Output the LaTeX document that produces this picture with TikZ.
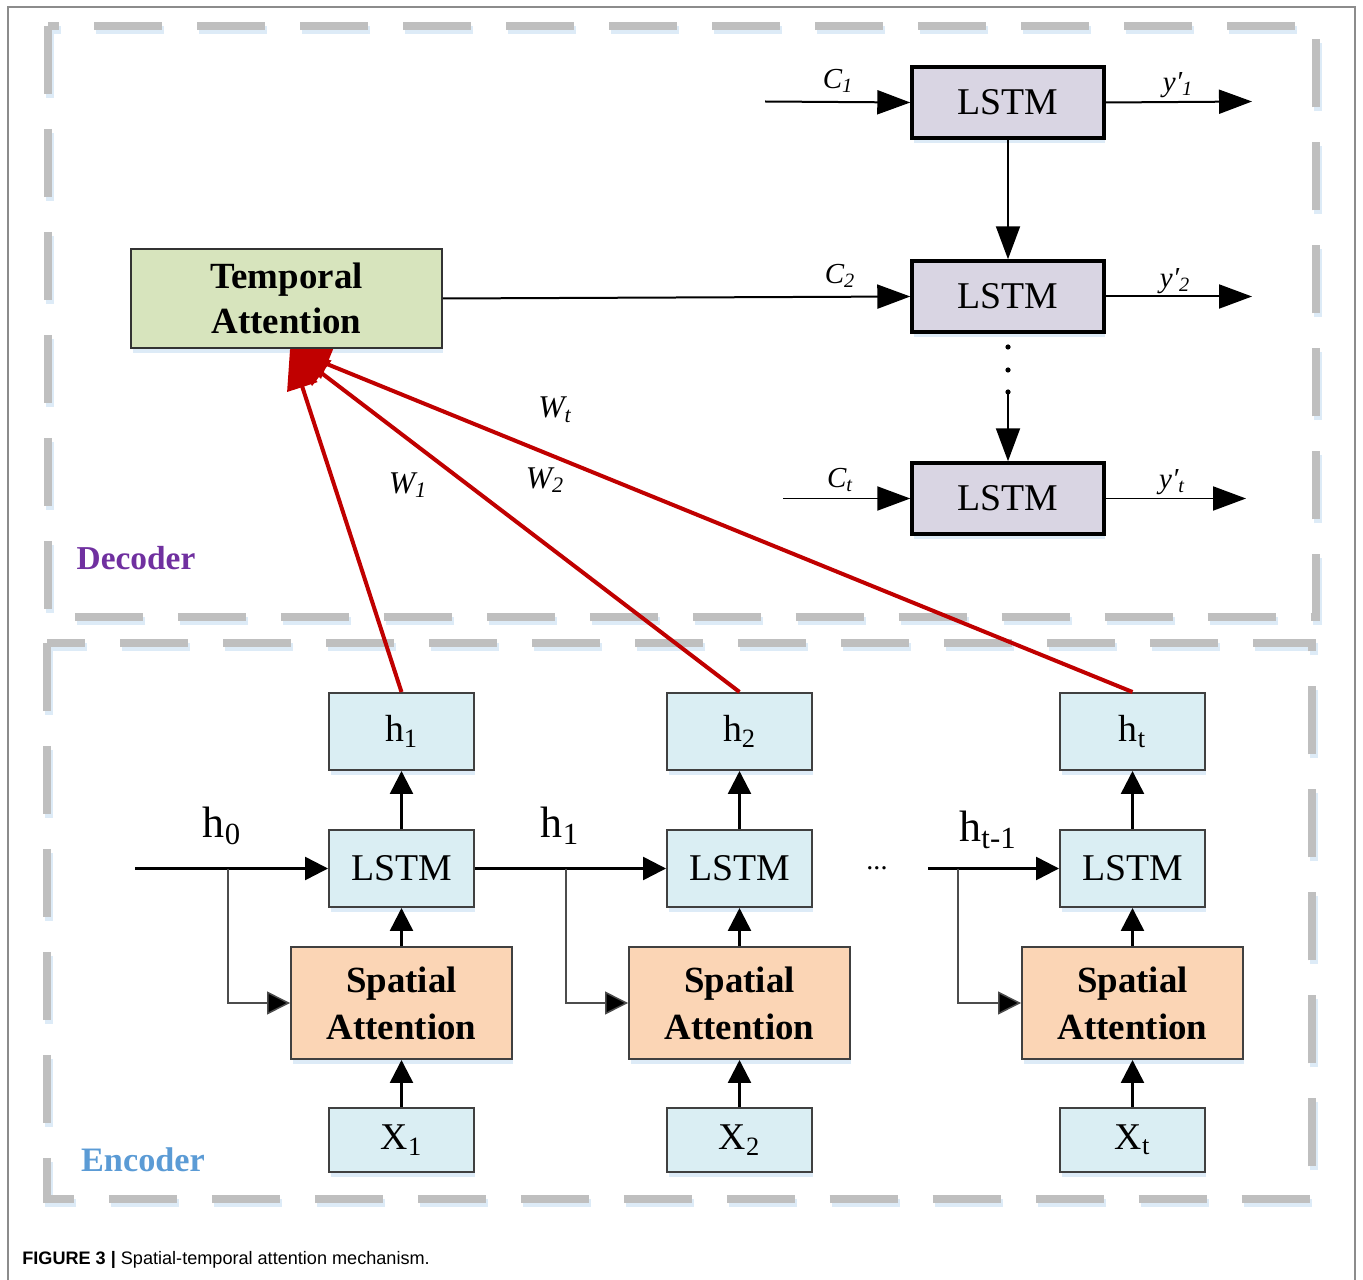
\documentclass[tikz,border=0pt]{standalone}
\usepackage{fontspec}
\setmainfont{Liberation Serif}
\setsansfont{Liberation Sans}
\usepackage{tikz}
\usetikzlibrary{arrows.meta,shadows}

\definecolor{declstm}{HTML}{D9D5E3}
\definecolor{tempgreen}{HTML}{D7E4BD}
\definecolor{encblue}{HTML}{DAEEF3}
\definecolor{spatpeach}{HTML}{FBD5B5}
\definecolor{attred}{HTML}{C00000}
\definecolor{decpurple}{HTML}{7030A0}
\definecolor{encsky}{HTML}{5B9BD5}
\definecolor{dashgray}{HTML}{BFBFBF}
\definecolor{shadeblue}{HTML}{DDEBF7}

\tikzset{
	boxshade/.style={drop shadow={shadow xshift=0.03cm, shadow yshift=-0.11cm, fill=shadeblue, opacity=1}},
	declstmbox/.style={draw=black, line width=0.07cm, fill=declstm, minimum width=3.84cm, minimum height=1.42cm, inner sep=0pt, boxshade, font=\fontsize{21.5}{26}\selectfont},
	tempbox/.style={draw=black!80, line width=0.04cm, fill=tempgreen, minimum width=6.22cm, minimum height=1.98cm, inner sep=0pt, align=center, boxshade, font=\fontsize{21}{25.6}\selectfont\bfseries},
	encbox/.style={draw=black!75, line width=0.04cm, fill=encblue, minimum width=2.9cm, minimum height=1.54cm, inner sep=0pt, boxshade, font=\fontsize{21.5}{26}\selectfont},
	xbox/.style={encbox, minimum height=1.28cm},
	spatbox/.style={draw=black!75, line width=0.04cm, fill=spatpeach, minimum width=4.42cm, minimum height=2.24cm, inner sep=0pt, align=center, boxshade, font=\fontsize{21}{26.7}\selectfont\bfseries},
	darr/.style={line width=0.04cm, -{Triangle[length=0.66cm, width=0.48cm]}},
	encarr/.style={line width=0.05cm, -{Triangle[length=0.46cm, width=0.46cm]}},
	branch/.style={line width=0.03cm, draw=black!70, -{Triangle[length=0.46cm, width=0.46cm, fill=black]}},
	redarr/.style={line width=0.08cm, attred, -{Triangle[length=0.8cm, width=0.62cm]}},
	grouprect/.style={line width=0.16cm, dash pattern=on 1.36cm off 0.7cm},
	itlabel/.style={inner sep=0pt, font=\fontsize{16.5}{20}\selectfont\itshape},
	wlabel/.style={inner sep=0pt, font=\fontsize{18}{22}\selectfont\itshape},
	hlabel/.style={inner sep=0pt, font=\fontsize{25}{30}\selectfont},
}

\begin{document}
\begin{tikzpicture}[x=0.02cm, y=-0.02cm]
		%%%%% START %%%%%
		\useasboundingbox (0,0) rectangle (1363,1280);
		
		% outer frame
		\draw[black!45, line width=0.03cm] (8,1280) -- (8,7) -- (1355,7) -- (1355,1280);
		
		% dashed groups
		\draw[grouprect, shadeblue] (50,30) rectangle (1318,621);
		\draw[grouprect, dashgray] (48,26) rectangle (1316,617);
		\draw[grouprect, shadeblue] (49,647) rectangle (1314,1203);
		\draw[grouprect, dashgray] (47,643) rectangle (1312,1199);
		
		\node[font=\fontsize{19}{22}\selectfont\bfseries, text=decpurple] (declabel) at (136,558) {Decoder};
		\node[font=\fontsize{19.5}{22}\selectfont\bfseries, text=encsky] (enclabel) at (143,1160) {Encoder};
		
		% decoder
		\node[declstmbox] (d1) at (1008,102.5) {LSTM};
		\node[declstmbox] (d2) at (1008,296.5) {LSTM};
		\node[declstmbox] (d3) at (1008,498.5) {LSTM};
		\node[tempbox] (ta) at (286.5,298.5) {Temporal\\Attention};
		
		\coordinate (c1in) at (765,101.5);
		\coordinate (c3in) at (783,498.5);
		\coordinate (y1out) at (1252,101.5);
		\coordinate (y2out) at (1252,296.5);
		\coordinate (y3out) at (1246,498.5);
		
		\draw[darr] (c1in) -- (d1.west);
		\draw[darr] (ta.east) -- (d2.west);
		\draw[darr] (c3in) -- (d3.west);
		\draw[darr] (d1.east) -- (y1out);
		\draw[darr] (d2.east) -- (y2out);
		\draw[darr] (d3.east) -- (y3out);
		\draw[darr] (d1.south) -- (d2.north);
		
		\coordinate (dotend) at (1008,392);
		\fill (1008,347) circle (2.6);
		\fill (1008,370) circle (2.6);
		\fill (dotend) circle (2.6);
		\draw[darr] (dotend) -- (d3.north);
		
		\node[itlabel] (c1) at (838,81) {C\textsubscript{1}};
		\node[itlabel] (c2) at (840,276) {C\textsubscript{2}};
		\node[itlabel] (c3) at (840,480) {C\textsubscript{t}};
		\node[itlabel] (y1) at (1178,85) {y′\textsubscript{1}};
		\node[itlabel] (y2) at (1175,281) {y′\textsubscript{2}};
		\node[itlabel] (y3) at (1172,482) {y′\textsubscript{t}};
		
		% encoder
		\node[encbox] (h1) at (401.5,731.5) {h\textsubscript{1}};
		\node[encbox] (h2) at (739.5,731.5) {h\textsubscript{2}};
		\node[encbox] (h3) at (1132.5,731.5) {h\textsubscript{t}};
		\node[encbox] (l1) at (401.5,868.5) {LSTM};
		\node[encbox] (l2) at (739.5,868.5) {LSTM};
		\node[encbox] (l3) at (1132.5,868.5) {LSTM};
		\node[spatbox] (s1) at (401.5,1003) {Spatial\\Attention};
		\node[spatbox] (s2) at (739.5,1003) {Spatial\\Attention};
		\node[spatbox] (s3) at (1132.5,1003) {Spatial\\Attention};
		\node[xbox] (x1) at (401.5,1140) {X\textsubscript{1}};
		\node[xbox] (x2) at (739.5,1140) {X\textsubscript{2}};
		\node[xbox] (x3) at (1132.5,1140) {X\textsubscript{t}};
		
		\draw[encarr] (x1) -- (s1);
		\draw[encarr] (s1) -- (l1);
		\draw[encarr] (l1) -- (h1);
		\draw[encarr] (x2) -- (s2);
		\draw[encarr] (s2) -- (l2);
		\draw[encarr] (l2) -- (h2);
		\draw[encarr] (x3) -- (s3);
		\draw[encarr] (s3) -- (l3);
		\draw[encarr] (l3) -- (h3);
		
		\coordinate (h0in) at (135,868.5);
		\coordinate (htin) at (928,868.5);
		\coordinate (b1) at (228,868.5);
		\coordinate (b2) at (566,868.5);
		\coordinate (b3) at (958,868.5);
		
		\draw[encarr] (h0in) -- (l1);
		\draw[encarr] (l1) -- (l2);
		\draw[encarr] (htin) -- (l3);
		\draw[branch] (b1) |- (s1);
		\draw[branch] (b2) |- (s2);
		\draw[branch] (b3) |- (s3);
		
		\node[hlabel] (h0lab) at (222,826) {h\textsubscript{0}};
		\node[hlabel] (h1lab) at (560,826) {h\textsubscript{1}};
		\node[hlabel] (htlab) at (988,830) {h\textsubscript{t-1}};
		\node[font=\fontsize{16}{20}\selectfont] (gap) at (877,868) {...};
		
		% attention weights
		\coordinate (tip) at (290,349);
		\draw[redarr] (h1.north) -- (tip);
		\draw[redarr] (h2.north) -- (tip);
		\draw[redarr] (h3.north) -- (tip);
		
		\node[wlabel] (w1) at (408,485) {W\textsubscript{1}};
		\node[wlabel] (w2) at (545,480) {W\textsubscript{2}};
		\node[wlabel] (wt) at (555,410) {W\textsubscript{t}};
		
		% caption
		\node[anchor=west, inner sep=0pt, font=\sffamily\fontsize{10.3}{12}\selectfont] (cap) at (22,1260) {\textbf{FIGURE 3 |} Spatial-temporal attention mechanism.};
		%%%%% END %%%%%
	\end{tikzpicture}
\end{document}
